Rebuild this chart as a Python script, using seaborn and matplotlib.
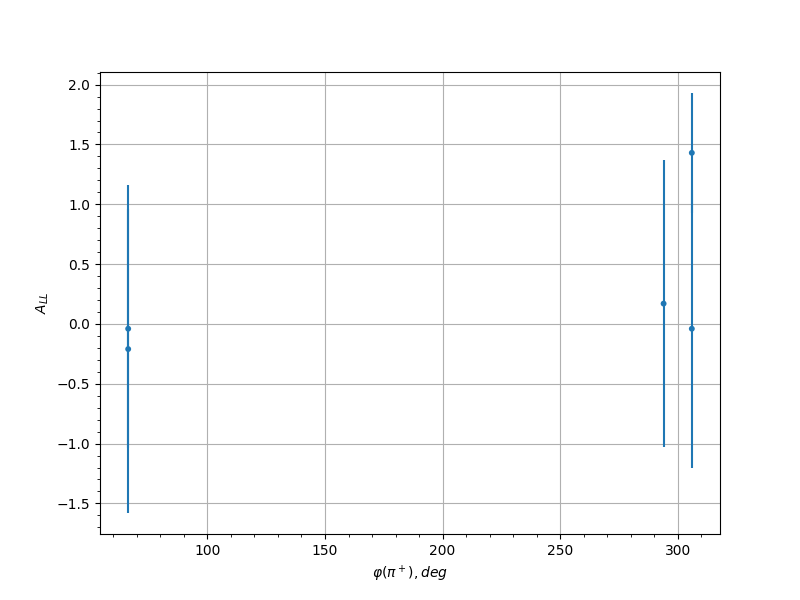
import matplotlib
matplotlib.use("Agg")
import matplotlib.pyplot as plt
import seaborn as sns
import pandas as pd

# phi(pi+) bins and asymmetry values
phi = [66.3, 66.3, 294.0, 306.0, 306.0]
a_ll = [-0.04, -0.21, 0.17, 1.43, -0.04]
a_ll_err = [1.0, 1.37, 1.20, 0.50, 1.16]

df = pd.DataFrame({"phi": phi, "A_LL": a_ll, "err": a_ll_err})

fig, ax = plt.subplots(figsize=(8, 6), dpi=100)

ax.errorbar(df["phi"], df["A_LL"], yerr=df["err"], fmt="none",
            ecolor="C0", elinewidth=1.5)
sns.scatterplot(data=df, x="phi", y="A_LL", ax=ax, color="C0",
                s=18, edgecolor="none", zorder=3)

ax.set_xlabel(r"$\varphi(\pi^+), deg$")
ax.set_ylabel(r"$A_{LL}$")
ax.minorticks_on()
ax.grid(True, which="major")

plt.savefig("out.png", dpi=100)
